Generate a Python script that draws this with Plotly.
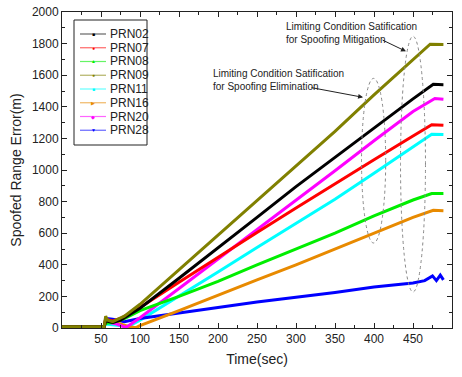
import plotly.graph_objects as go

# Time (sec) sample points and spoofed range error (m) per PRN
t_prn02 = [0, 54, 56, 65, 75, 100, 150, 200, 250, 300, 350, 400, 450, 476, 489]
y_prn02 = [8, 8, 45, 35, 50, 125, 315, 505, 700, 895, 1080, 1270, 1450, 1542, 1540]

t_prn07 = [0, 54, 56, 65, 75, 100, 150, 200, 250, 300, 350, 400, 450, 474, 489]
y_prn07 = [8, 8, 55, 45, 60, 130, 290, 450, 605, 760, 915, 1065, 1215, 1287, 1283]

t_prn08 = [0, 54, 56, 65, 80, 100, 150, 200, 250, 300, 350, 400, 450, 474, 489]
y_prn08 = [8, 8, 30, 35, 60, 110, 200, 295, 400, 500, 600, 710, 810, 851, 852]

t_prn09 = [0, 54, 56, 58, 65, 80, 100, 150, 200, 250, 300, 350, 400, 450, 472, 489]
y_prn09 = [8, 8, 75, 50, 40, 75, 150, 370, 590, 805, 1025, 1245, 1475, 1700, 1796, 1795]

t_prn11 = [0, 54, 56, 70, 85, 100, 150, 200, 250, 300, 350, 400, 450, 474, 489]
y_prn11 = [8, 8, 25, 20, 10, 50, 200, 355, 510, 660, 815, 980, 1145, 1226, 1224]

t_prn16 = [0, 54, 56, 70, 85, 95, 100, 150, 200, 250, 300, 350, 400, 450, 476, 489]
y_prn16 = [8, 8, 55, 35, 10, 2, 15, 110, 210, 305, 400, 500, 605, 700, 745, 742]

t_prn20 = [0, 54, 56, 70, 82, 100, 150, 200, 250, 300, 350, 400, 450, 478, 489]
y_prn20 = [8, 8, 40, 25, 3, 65, 250, 435, 625, 810, 995, 1185, 1370, 1452, 1448]

t_prn28 = [0, 54, 56, 65, 80, 100, 150, 200, 250, 300, 350, 400, 450, 465, 475, 480, 485, 489]
y_prn28 = [8, 8, 60, 55, 40, 60, 95, 130, 165, 195, 225, 260, 285, 300, 330, 300, 335, 305]

names = ["PRN02", "PRN07", "PRN08", "PRN09", "PRN11", "PRN16", "PRN20", "PRN28"]
colors = ["#000000", "#ff0000", "#00ee00", "#808000", "#00ffff", "#e88a00", "#ff00ff", "#0000ff"]
glyphs = ["■", "●", "▲", "●", "■", "▶", "◆", "▼"]
series_t = [t_prn02, t_prn07, t_prn08, t_prn09, t_prn11, t_prn16, t_prn20, t_prn28]
series_y = [y_prn02, y_prn07, y_prn08, y_prn09, y_prn11, y_prn16, y_prn20, y_prn28]
draw_order = [6, 5, 4, 7, 0, 2, 3, 1]  # PRN09 drawn last (on top)

fig = go.Figure()
for i in sorted(range(8), key=lambda k: draw_order[k]):
    fig.add_trace(go.Scatter(
        x=series_t[i], y=series_y[i], name=names[i], mode="lines",
        line=dict(color=colors[i], width=3),
        showlegend=False,
    ))

# Boxed legend (drawn in paper coordinates) matching the original's compact layout
PLOT_L, PLOT_R, PLOT_T, PLOT_B = 62, 452, 12, 328
def px_x(p):
    return (p - PLOT_L) / (PLOT_R - PLOT_L)
def px_y(p):
    return (PLOT_B - p) / (PLOT_B - PLOT_T)

fig.add_shape(type="rect", xref="paper", yref="paper",
              x0=px_x(74), x1=px_x(147), y0=px_y(145), y1=px_y(20),
              line=dict(color="#222", width=1), fillcolor="white", layer="above")
for i, nm in enumerate(names):
    yc = 34 + i * 13.75
    fig.add_shape(type="line", xref="paper", yref="paper",
                  x0=px_x(80), x1=px_x(106), y0=px_y(yc), y1=px_y(yc),
                  line=dict(color=colors[i], width=1.2), opacity=0.6, layer="above")
    fig.add_annotation(x=px_x(93), y=px_y(yc), xref="paper", yref="paper",
                       text=glyphs[i], showarrow=False, xanchor="center", yanchor="middle",
                       font=dict(size=5, color=colors[i]))
    fig.add_annotation(x=px_x(108), y=px_y(yc), xref="paper", yref="paper",
                       text=nm, showarrow=False, xanchor="left", yanchor="middle",
                       font=dict(family="Liberation Sans, Arial", size=12, color="#222"))

ann_font = dict(family="Liberation Sans, Arial", size=10, color="#222")
fig.add_annotation(x=284.6, y=1958, xref="x", yref="y", xanchor="left", yanchor="top",
                   text="Limiting Condition Satification<br>for Spoofing Mitigation",
                   showarrow=False, align="left", font=ann_font)
fig.add_annotation(x=191, y=1660, xref="x", yref="y", xanchor="left", yanchor="top",
                   text="Limiting Condition Satification<br>for Spoofing Elimination",
                   showarrow=False, align="left", font=ann_font)
fig.add_annotation(x=441, y=1751, ax=409, ay=1827, xref="x", yref="y", axref="x", ayref="y",
                   text="", showarrow=True, arrowhead=2, arrowsize=1, arrowwidth=1, arrowcolor="#222")
fig.add_annotation(x=386, y=1460, ax=318, ay=1523, xref="x", yref="y", axref="x", ayref="y",
                   text="", showarrow=True, arrowhead=2, arrowsize=1, arrowwidth=1, arrowcolor="#222")

fig.add_shape(type="circle", xref="x", yref="y", x0=384, x1=415, y0=538, y1=1580,
              line=dict(color="#888", width=1, dash="dot"))
fig.add_shape(type="circle", xref="x", yref="y", x0=434, x1=466, y0=228, y1=1846,
              line=dict(color="#888", width=1, dash="dot"))

axis_common = dict(showline=True, linecolor="#222", linewidth=1, mirror="ticks",
                   ticks="inside", ticklen=5, tickcolor="#222", showgrid=False, zeroline=False,
                   automargin=False,
                   tickfont=dict(family="Liberation Sans, Arial", size=12, color="#222"))
fig.update_xaxes(range=[0, 500], tickvals=[50, 100, 150, 200, 250, 300, 350, 400, 450, 500],
                 minor=dict(ticks="inside", ticklen=3, dtick=25, tick0=0, tickcolor="#222"),
                 title=dict(text="Time(sec)", font=dict(family="Liberation Sans, Arial", size=14, color="#222"),
                            standoff=8),
                 **axis_common)
fig.update_yaxes(range=[0, 2000], dtick=200, tick0=0,
                 minor=dict(ticks="inside", ticklen=3, dtick=100, tick0=0, tickcolor="#222"),
                 title=dict(text="Spoofed Range Error(m)", font=dict(family="Liberation Sans, Arial", size=14, color="#222"),
                            standoff=6),
                 **axis_common)

fig.update_layout(
    width=462, height=377,
    margin=dict(l=PLOT_L, r=462 - PLOT_R, t=PLOT_T, b=377 - PLOT_B),
    plot_bgcolor="white", paper_bgcolor="white",
    showlegend=False,
)

fig.write_html("out.html", config={"displayModeBar": False},
               post_script="document.body.style.margin='0';")
